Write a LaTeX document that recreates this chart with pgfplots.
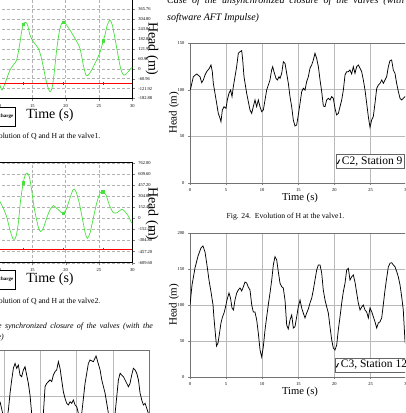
\documentclass[border=0pt]{standalone}
\usepackage{fontspec}
\setmainfont{Liberation Serif}
\usepackage{pgfplots}
\pgfplotsset{compat=1.18}
\definecolor{qgreen}{RGB}{70,225,60}
\newcommand{\fs}[1]{\fontsize{#1}{#1}\selectfont}
\pgfplotsset{
 greenstyle/.style={scale only axis, xmin=0, xmax=30, xtick={0,5,...,30},
  tick align=outside, xtick pos=bottom, ytick pos=right, yticklabel pos=right,
  grid=major, major grid style={densely dashed, gray!60, line width=0.3pt},
  tick label style={font=\fs{4.5}}, major tick length=2.5pt,
  /pgf/number format/assume math mode=true,
  axis line style={black, line width=0.5pt}},
 aftstyle/.style={scale only axis, xmin=0, xmax=30, xtick={0,5,...,30},
  tick align=outside, xtick pos=bottom, ytick pos=left,
  grid=major, major grid style={gray!55, line width=0.5pt},
  tick label style={font=\fs{4.5}}, major tick length=2pt,
  /pgf/number format/assume math mode=true,
  axis line style={black!55, line width=0.5pt},
  legend cell align=left,
  legend style={draw=black!60, line width=0.4pt, inner sep=0.3pt, font=\fs{11.5}, anchor=south west},
  legend image code/.code={\draw[black, line width=0.9pt] (0pt,-1.6pt) -- (0.8pt,-2.1pt) -- (2.6pt,1.8pt);}}
}
\begin{document}
\begin{tikzpicture}
\useasboundingbox (0pt,0pt) rectangle (405pt,413pt);
\clip (0pt,0pt) rectangle (405pt,413pt);

% ---------- chart A (green, valve 1) ----------
\begin{axis}[greenstyle, at={(-67.7pt,314.5pt)}, anchor=south west, width=200pt, height=99.3pt,
  ymin=-182.88, ymax=426.72,
  ytick={-182.88,-121.92,-60.96,0,60.96,121.92,182.88,243.84,304.80,365.76},
  yticklabels={-182.88,-121.92,-60.96,0,60.96,121.92,182.88,243.84,304.80,365.76}]
\addplot[qgreen, line width=0.7pt, smooth] coordinates {
(10.15,-100.2) (10.45,-130.9) (10.9,-90.0) (11.65,-8.2) (12.15,22.5) (12.65,53.2)
(13.05,135.0) (13.4,227.0) (13.65,274.0) (14.0,284.3) (14.3,267.9) (14.65,206.5)
(15.15,165.6) (15.55,145.2) (15.9,124.7) (16.25,83.8) (16.65,12.3) (17.05,-69.5)
(17.4,-120.7) (17.65,-141.1) (17.95,-120.7) (18.25,-38.9) (18.65,114.5) (19.05,227.0)
(19.4,278.1) (19.75,288.3) (20.15,267.9) (20.65,237.2) (21.4,186.1) (22.15,124.7)
(22.65,22.5) (23.05,-38.9) (23.4,-38.9) (23.9,-8.2) (24.65,53.2) (25.15,100.0)
(25.65,171.8) (25.95,215.0) (26.25,267.9) (26.65,298.6) (27.0,267.9) (27.4,186.1)
(27.9,73.6) (28.25,2.0) (28.65,-38.9) (29.05,-32.7) (29.4,-18.4) (29.8,2.0) (30,8)};
\addplot[qgreen, only marks, mark=square*, mark size=1.3pt] coordinates {(13.65,274.0) (19.65,286.0) (25.65,171.8)};
\addplot[red, line width=0.6pt] coordinates {(0,-90) (30,-90)};
\addplot[red, only marks, mark=|, mark size=1.3pt] coordinates {(13.6,-90) (19.6,-90) (25.6,-90)};
\end{axis}

% ---------- chart B (green, valve 2) ----------
\begin{axis}[greenstyle, at={(-67.7pt,150.3pt)}, anchor=south west, width=200pt, height=100pt,
  ymin=-609.6, ymax=762,
  ytick={-609.6,-457.2,-304.8,-152.4,0,152.4,304.8,457.2,609.6,762},
  yticklabels={-609.60,-457.20,-304.80,-152.40,0,152.40,304.80,457.20,609.60,762.00}]
\addplot[qgreen, line width=0.7pt, smooth] coordinates {
(10.15,228.8) (10.65,137.3) (11.15,22.9) (11.65,-160.2) (12.15,-288.3) (12.55,-251.7)
(12.9,-68.6) (13.25,251.7) (13.65,489.6) (13.95,594.9) (14.25,617.8) (14.55,572.0)
(14.9,389.0) (15.25,160.2) (15.65,-22.9) (15.95,-137.3) (16.25,-183.0) (16.65,-137.3)
(17.15,0) (17.65,114.4) (18.15,173.9) (18.65,137.3) (19.05,105.2) (19.55,68.6)
(20.05,114.4) (20.65,274.6) (21.15,398.1) (21.55,366.1) (22.05,205.9) (22.55,-22.9)
(22.95,-205.9) (23.25,-274.6) (23.65,-205.9) (24.15,0) (24.65,205.9) (25.15,343.2)
(25.55,366.1) (26.05,320.3) (26.55,183.0) (27.15,77.8) (27.75,77.8) (28.4,123.6)
(28.9,91.5) (29.4,32.0) (29.8,-45.8) (30,-70)};
\addplot[qgreen, only marks, mark=square*, mark size=1.3pt] coordinates {(13.65,489.6) (19.65,68.6) (25.55,366.1)};
\addplot[red, line width=0.6pt] coordinates {(0,-421) (30,-421)};
\addplot[red, only marks, mark=|, mark size=1.3pt] coordinates {(13.6,-421) (19.6,-421) (25.6,-421)};
\end{axis}

% ---------- chart C2, Station 9 ----------
\begin{axis}[aftstyle, at={(190pt,230pt)}, anchor=south west, width=216.6pt, height=140pt,
  ymin=0, ymax=150, ytick={0,50,100,150},
  legend style={at={(0.674,0.1036)}}]
\addplot[black, line width=0.75pt] coordinates {
(0,100) (0.1,101.5) (0.46,113.9) (0.93,116.8) (1.385,113.9) (1.62,107.5) (1.85,110.4)
(2.08,115.7) (2.31,119.3) (2.68,122.9) (2.91,126.4) (3.09,119.3) (3.23,106.8) (3.46,96.1)
(3.69,85.4) (3.92,74.6) (4.16,69.3) (4.29,65.7) (4.48,78.2) (4.71,81.8) (4.99,80.0)
(5.17,89.0) (5.40,96.1) (5.63,99.6) (5.82,92.5) (6.00,103.2) (6.23,113.9) (6.46,124.6)
(6.69,138.9) (6.93,140.7) (7.16,141.8) (7.30,131.8) (7.48,113.9) (7.85,96.1) (8.31,78.2)
(8.54,74.6) (8.77,81.8) (9.00,89.0) (9.23,81.8) (9.46,89.0) (9.69,81.8) (9.93,76.4)
(10.16,78.2) (10.39,89.0) (10.62,99.6) (11.08,110.4) (11.31,121.1) (11.45,124.6)
(11.63,119.3) (11.91,112.1) (12.10,110.4) (12.33,113.9) (12.47,112.1) (12.70,117.5)
(12.93,130.0) (13.16,128.2) (13.39,117.5) (13.62,106.8) (13.85,92.5) (14.08,81.8)
(14.31,67.5) (14.54,61.1) (14.77,62.1) (15.00,72.9) (15.24,85.4) (15.47,97.9)
(15.70,101.4) (15.93,99.6) (16.16,108.6) (16.39,113.9) (16.62,122.9) (16.85,126.4)
(17.08,131.8) (17.31,138.9) (17.54,133.6) (17.78,124.6) (18.01,110.4) (18.24,97.9)
(18.47,82.5) (18.70,81.8) (18.93,89.0) (19.16,90.7) (19.39,89.0) (19.62,92.5)
(19.85,90.7) (20.08,80.0) (20.31,72.9) (20.55,74.6) (20.78,81.8) (21.01,89.0)
(21.24,99.6) (21.47,115.7) (21.70,119.3) (21.93,119.3) (22.16,121.1) (22.39,116.8)
(22.62,124.6) (22.85,117.5) (23.08,124.6) (23.32,126.4) (23.55,122.9) (23.78,119.3)
(24.01,110.4) (24.24,99.6) (24.47,85.4) (24.70,71.1) (24.93,59.6) (25.16,67.5)
(25.39,71.1) (25.62,85.4) (25.86,101.4) (26.09,105.0) (26.32,106.8) (26.55,110.4)
(26.78,106.8) (27.01,110.4) (27.24,113.9) (27.47,124.6) (27.70,131.1) (27.93,131.8)
(28.16,121.1) (28.39,117.5) (28.62,106.8) (28.86,97.9) (29.09,90.7) (29.32,89.0)
(29.55,90.7) (29.78,92.5) (30,94)};
\addlegendentry{C2, Station 9}
\end{axis}

% ---------- chart C3, Station 12 ----------
\begin{axis}[aftstyle, at={(190pt,36pt)}, anchor=south west, width=216.6pt, height=143.6pt,
  ymin=0, ymax=200, ytick={0,50,100,150,200},
  legend style={at={(0.669,0.035)}}]
\addplot[black, line width=0.75pt] coordinates {
(0,100.3) (0.28,128.1) (0.69,151.8) (1.11,168.5) (1.52,179.7) (1.80,182.5) (2.08,174.1)
(2.35,156.0) (2.63,135.1) (2.91,118.4) (3.19,100.3) (3.32,82.2) (3.53,58.5) (3.67,43.2)
(3.88,47.4) (4.09,61.3) (4.29,75.2) (4.50,83.6) (4.71,89.1) (4.92,97.5) (5.12,107.2)
(5.40,117.0) (5.61,110.0) (5.82,96.1) (6.02,93.3) (6.23,107.2) (6.47,117.0) (6.69,121.2)
(6.93,124.0) (7.16,119.8) (7.38,125.4) (7.62,132.3) (7.85,130.9) (8.07,125.4) (8.31,121.2)
(8.55,100.3) (8.77,90.5) (9.00,90.5) (9.24,79.4) (9.46,61.3) (9.70,37.6) (9.93,27.9)
(10.15,41.8) (10.39,65.5) (10.62,83.6) (10.84,100.3) (11.08,117.0) (11.32,135.1)
(11.54,156.0) (11.77,167.6) (12.01,163.0) (12.23,146.7) (12.47,130.5) (12.70,125.8)
(12.92,124.0) (13.16,107.2) (13.39,72.4) (13.61,66.9) (13.85,79.4) (14.09,86.4)
(14.31,68.2) (14.54,70.1) (14.78,84.0) (15.00,97.9) (15.24,107.2) (15.47,96.1)
(15.69,89.1) (15.93,82.2) (16.16,89.1) (16.39,94.7) (16.62,103.1) (16.86,110.0)
(17.08,121.2) (17.31,135.1) (17.55,149.0) (17.77,156.0) (18.01,156.0) (18.24,144.9)
(18.46,121.2) (18.70,107.2) (18.93,97.9) (19.16,89.1) (19.39,70.1) (19.63,51.5)
(19.85,40.4) (20.08,37.6) (20.32,44.6) (20.54,65.5) (20.78,84.0) (21.01,103.1)
(21.23,118.4) (21.47,130.5) (21.70,149.0) (21.93,151.4) (22.16,135.1) (22.40,139.7)
(22.62,142.1) (22.85,132.3) (23.09,117.0) (23.31,103.1) (23.55,93.3) (23.78,97.5)
(24.00,100.3) (24.24,93.3) (24.47,90.5) (24.70,82.2) (24.93,96.1) (25.17,90.9)
(25.39,84.0) (25.62,77.0) (25.86,68.2) (26.08,75.2) (26.32,77.0) (26.55,82.2)
(26.77,100.3) (27.01,121.2) (27.24,137.9) (27.47,153.2) (27.70,158.4) (27.94,159.2)
(28.16,156.0) (28.39,153.6) (28.63,146.7) (28.85,139.7) (29.09,128.1) (29.32,111.8)
(29.54,93.3) (29.78,49.2) (30,40)};
\addlegendentry{C3, Station 12}
\end{axis}

% ---------- chart C (bottom left, black) ----------
\begin{axis}[aftstyle, at={(-68pt,-77pt)}, anchor=south west, width=217pt, height=140pt,
  ymin=0, ymax=150, ytick={0,50,100,150}]
\addplot[black, line width=0.75pt] coordinates {
(9.41,94.6) (9.77,82.1) (10.1,71) (10.33,75) (10.56,85.7) (10.79,103.6) (11.02,117.9)
(11.25,130.4) (11.48,135.7) (11.71,130.4) (11.94,133.9) (12.17,123.2) (12.40,121.4)
(12.63,128.6) (12.86,132.1) (13.09,123.2) (13.32,114.3) (13.55,101.8) (13.78,82.1)
(14.01,67.9) (14.48,60.7) (14.94,67.9) (15.40,82.1) (15.63,110.7) (15.86,114.3)
(16.32,117.9) (16.55,116.1) (16.78,123.2) (17.01,126.8) (17.24,128.6) (17.47,137.5)
(17.70,130.4) (17.93,117.9) (18.16,105.4) (18.39,98.2) (18.62,92.9) (18.85,91.1)
(19.09,94.6) (19.32,92.9) (19.55,96.4) (19.78,91.1) (20.01,89.3) (20.24,82.1)
(20.47,70) (20.70,82.1) (21.16,114.3) (21.62,135.7) (21.85,139.3) (22.31,137.5)
(22.68,143.6) (22.91,137.5) (23.24,128.6) (23.47,117.9) (23.93,103.6) (24.16,92.9)
(24.39,82.1) (24.85,71.4) (25.31,82.1) (25.77,117.9) (26.00,125.0) (26.46,121.4)
(26.92,114.3) (27.15,110.7) (27.38,114.3) (27.61,123.2) (27.84,130.4) (28.08,128.6)
(28.31,125.0) (28.54,117.9) (28.77,103.6) (29.00,96.4) (29.23,91.1) (29.46,92.9)
(29.69,87.5) (29.92,82.1) (30,80)};
\end{axis}

% ---------- texts ----------
\node[rotate=-90, font=\fs{14}, inner sep=0] at (152pt,364pt) {Head (m)};
\node[rotate=-90, font=\fs{14}, inner sep=0] at (152pt,199pt) {Head (m)};
\node[font=\fs{14}, inner sep=0] at (50pt,298pt) {Time (s)};
\node[font=\fs{14}, inner sep=0] at (50pt,134pt) {Time (s)};
\draw[black, line width=0.5pt] (-40pt,287pt) rectangle (15.5pt,306pt);
\node[anchor=east, font=\fs{5}\bfseries, inner sep=0] at (13.5pt,296.5pt) {Discharge};
\draw[black, line width=0.5pt] (-40pt,124pt) rectangle (15.5pt,143pt);
\node[anchor=east, font=\fs{5}\bfseries, inner sep=0] at (13.5pt,133.5pt) {Discharge};
\node[anchor=east, font=\fs{7.7}, inner sep=0] at (100.5pt,276pt) {Fig. 20.\ \ Evolution of Q and H at the valve1.};
\node[anchor=east, font=\fs{7.7}, inner sep=0] at (100.5pt,111pt) {Fig. 21.\ \ Evolution of Q and H at the valve2.};
\node[font=\fs{7.7}, inner sep=0] at (285.5pt,196pt) {Fig. 24.\ \ Evolution of H at the valve1.};
\node[rotate=90, font=\fs{11}, inner sep=0] at (174pt,300pt) {Head (m)};
\node[rotate=90, font=\fs{11}, inner sep=0] at (174pt,108pt) {Head (m)};
\node[font=\fs{10.6}, inner sep=0] at (300pt,215pt) {Time (s)};
\node[font=\fs{10.6}, inner sep=0] at (300pt,21pt) {Time (s)};
\node[anchor=base west, font=\fs{10}\itshape, inner sep=0] at (167pt,409pt) {\makebox[254pt][s]{Case of the unsynchronized closure of the valves (with the}};
\node[anchor=base west, font=\fs{10}\itshape, inner sep=0] at (167pt,392.3pt) {software AFT Impulse)};
\node[anchor=base east, font=\fs{8}\itshape, inner sep=0] at (153pt,84pt) {\makebox[190pt][s]{Case of the synchronized closure of the valves (with the}};
\node[anchor=base east, font=\fs{8}\itshape, inner sep=0] at (4pt,73.5pt) {software AFT Impulse)};
\end{tikzpicture}
\end{document}
